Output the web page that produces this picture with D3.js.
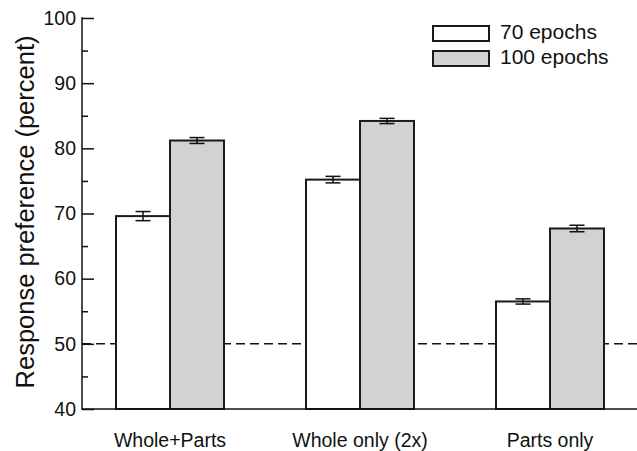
<!DOCTYPE html>
<html><head><meta charset="utf-8">
<script src="https://cdn.jsdelivr.net/npm/d3@7"></script>
<style>body{margin:0;background:#fff}svg{display:block}text{font-family:"Liberation Sans",Arial,sans-serif;fill:#111}</style>
</head><body><svg id="c" width="637" height="451"></svg>
<script>
const categories = ["Whole+Parts", "Whole only (2x)", "Parts only"];
const seriesNames = ["70 epochs", "100 epochs"];
const values70 = [69.6, 75.2, 56.5];
const errors70 = [0.7, 0.5, 0.4];
const values100 = [81.2, 84.2, 67.7];
const errors100 = [0.45, 0.4, 0.5];
const majorTicks = [40, 50, 60, 70, 80, 90, 100];
const minorTicks = [45, 55, 65, 75, 85, 95];
const chanceLevel = 50;

const svg = d3.select("#c");
const W = 637, H = 451;
const mLeft = 82, mBottom = 409, mTop = 18;
const y = d3.scaleLinear().domain([40, 100]).range([mBottom, mTop]);
const x = d3.scaleBand().domain(categories).range([75, 645]).paddingInner(0.4316).paddingOuter(0.2158);
const xs = d3.scaleBand().domain(seriesNames).range([0, x.bandwidth()]).padding(0);
const fills = ["#ffffff", "#d2d2d2"];
const series = [
  {name: seriesNames[0], vals: values70, errs: errors70},
  {name: seriesNames[1], vals: values100, errs: errors100}
];

// dashed chance line
svg.append("line").attr("x1", mLeft).attr("x2", W).attr("y1", y(chanceLevel)).attr("y2", y(chanceLevel))
  .attr("stroke", "#111").attr("stroke-width", 1.5).attr("stroke-dasharray", "9,5");

// bars
series.forEach((s, si) => {
  const g = svg.append("g");
  g.selectAll("rect").data(categories).enter().append("rect")
    .attr("x", c => x(c) + xs(s.name))
    .attr("y", (c, i) => y(s.vals[i]))
    .attr("width", xs.bandwidth())
    .attr("height", (c, i) => y(40) - y(s.vals[i]))
    .attr("fill", fills[si]).attr("stroke", "#1a1a1a").attr("stroke-width", 2);
  categories.forEach((c, i) => {
    const cx = x(c) + xs(s.name) + xs.bandwidth() / 2;
    const y1 = y(s.vals[i] + s.errs[i]), y2 = y(s.vals[i] - s.errs[i]);
    g.append("line").attr("x1", cx).attr("x2", cx).attr("y1", y1).attr("y2", y2).attr("stroke", "#111").attr("stroke-width", 1.5);
    [y1, y2].forEach(yy => g.append("line").attr("x1", cx - 7.5).attr("x2", cx + 7.5).attr("y1", yy).attr("y2", yy).attr("stroke", "#111").attr("stroke-width", 1.5));
  });
});

// axes
const yAxis = d3.axisLeft(y).tickValues(majorTicks).tickSize(-12).tickPadding(7).tickFormat(d3.format("d"));
const gy = svg.append("g").attr("transform", `translate(${mLeft},0)`).call(yAxis);
gy.select(".domain").remove();
gy.selectAll(".tick line").attr("stroke", "#111").attr("stroke-width", 1.5);
gy.selectAll(".tick text").attr("font-size", 19.5).attr("font-family", "Liberation Sans, Arial, sans-serif").attr("fill", "#111").attr("x", -6);
const yMinor = d3.axisLeft(y).tickValues(minorTicks).tickSize(-6).tickFormat("");
const gm = svg.append("g").attr("transform", `translate(${mLeft},0)`).call(yMinor);
gm.select(".domain").remove();
gm.selectAll(".tick line").attr("stroke", "#111").attr("stroke-width", 1.5);

svg.append("line").attr("x1", mLeft).attr("x2", mLeft).attr("y1", mTop - 0.75).attr("y2", mBottom).attr("stroke", "#111").attr("stroke-width", 1.5);
svg.append("line").attr("x1", mLeft - 0.75).attr("x2", W).attr("y1", mBottom).attr("y2", mBottom).attr("stroke", "#111").attr("stroke-width", 1.5);

const xAxis = d3.axisBottom(x).tickSize(0).tickPadding(24);
const gx = svg.append("g").attr("transform", `translate(0,${mBottom})`).call(xAxis);
gx.select(".domain").remove();
gx.selectAll(".tick text").attr("font-size", 19.5).attr("font-family", "Liberation Sans, Arial, sans-serif").attr("fill", "#111");

// y title
svg.append("text").attr("transform", `translate(34,212) rotate(-90)`)
  .attr("text-anchor", "middle").attr("font-size", 25.5).text("Response preference (percent)");

// legend
const leg = svg.append("g");
seriesNames.forEach((n, i) => {
  const ly = 26 + i * 25;
  leg.append("rect").attr("x", 433).attr("y", ly).attr("width", 56).attr("height", 15)
    .attr("fill", fills[i]).attr("stroke", "#1a1a1a").attr("stroke-width", 2);
  leg.append("text").attr("x", 500).attr("y", ly + 13).attr("font-size", 21).text(n);
});
</script></body></html>
